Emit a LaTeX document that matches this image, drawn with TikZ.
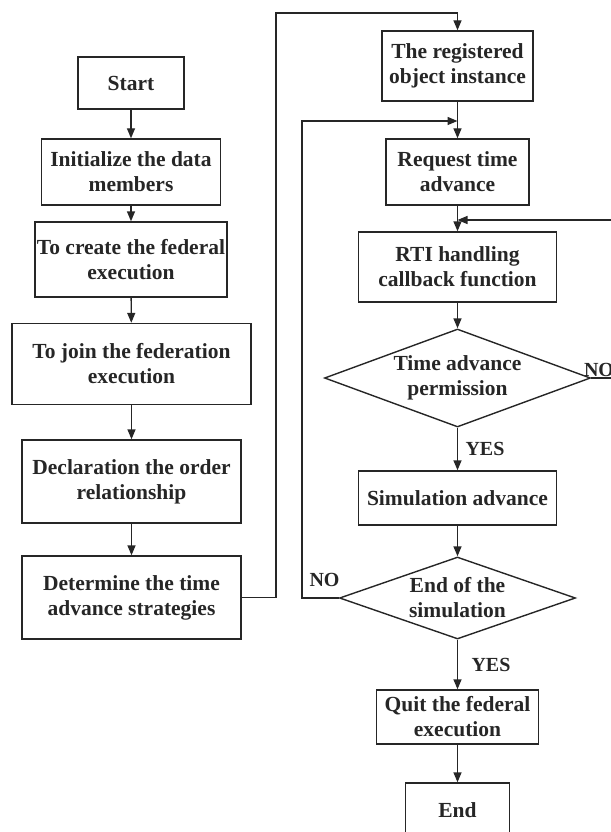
\documentclass[tikz,border=0pt]{standalone}
\usepackage{fontspec}
\setmainfont{Liberation Serif}
\usetikzlibrary{shapes.geometric}
\usetikzlibrary{arrows.meta}
\usetikzlibrary{calc}

\begin{document}
\begin{tikzpicture}[x=1pt, y=-1pt, color=black!85, line width=1.4pt,
        >={Triangle[length=10pt, width=8pt]},
        box/.style={draw, rectangle, align=center, inner sep=0pt,
            font=\fontsize{21.5}{25}\selectfont\bfseries},
        decision/.style={draw, diamond, align=center, inner sep=1pt,
            font=\fontsize{21.5}{25}\selectfont\bfseries},
        tag/.style={font=\fontsize{20}{24}\selectfont\bfseries}]
                \useasboundingbox (0,0) rectangle (610,832);

                % Left column: setting up the federate
                \node[box, minimum width=106pt, minimum height=52pt] (start) at (131,83) {Start};
                \node[box, minimum width=179pt, minimum height=66pt] (init) at (131,172) {Initialize the data\\members};
                \node[box, minimum width=192pt, minimum height=75pt] (create) at (131,259.5) {To create the federal\\execution};
                \node[box, minimum width=239pt, minimum height=81pt] (join) at (131.5,364) {To join the federation\\execution};
                \node[box, minimum width=219pt, minimum height=83pt] (decl) at (131.5,481.5) {Declaration the order\\relationship};
                \node[box, minimum width=219pt, minimum height=83pt] (strat) at (131.5,597.5) {Determine the time\\advance strategies};

                \foreach \a/\b in {start/init, init/create, create/join, join/decl, decl/strat} {
                    \draw[->] (\a) -- (\b);
                }

                % Right column: the simulation loop
                \node[box, minimum width=151pt, minimum height=70pt] (reg) at (457.5,66) {The registered\\object instance};
                \node[box, minimum width=143pt, minimum height=66pt] (req) at (457.5,172) {Request time\\advance};
                \node[box, minimum width=198pt, minimum height=70pt] (rti) at (457.5,267) {RTI handling\\callback function};
                \node[decision, aspect=2.71, minimum width=266pt, minimum height=98pt] (perm) at (457.5,378) {Time advance\\permission};
                \node[box, minimum width=198pt, minimum height=54pt] (sim) at (457.5,498) {Simulation advance};
                \node[decision, aspect=2.88, minimum width=236pt, minimum height=82pt] (fin) at (457.5,598) {End of the\\simulation};
                \node[box, minimum width=162pt, minimum height=54pt] (quit) at (457.5,717) {Quit the federal\\execution};
                \node[box, minimum width=104pt, minimum height=54pt] (end) at (457.5,810) {End};

                % Corners and joins of the feedback lines
                \coordinate (over) at (276,13);
                \coordinate (loopcorner) at (302,121);
                \coordinate (loopin) at (457.5,121);
                \coordinate (retcorner) at (616,220);
                \coordinate (retin) at (457.5,220);

                \draw[->] (strat.east) -| (over) -| (reg.north);
                \draw[->] (reg) -- (req);
                \draw[->] (req) -- (rti);
                \draw[->] (rti) -- (perm);
                \draw[->] (perm) -- node[tag, right, xshift=4pt] {YES} (sim);
                \draw[->] (sim) -- (fin);
                \draw[->] (fin) -- node[tag, right, xshift=10pt] {YES} (quit);
                \draw[->] (quit) -- (end);

                % NO branches
                \draw[->] (fin.west) -| (loopcorner) -- (loopin);
                \draw[->] (perm.east) -| (retcorner) -- (retin);
                \node[tag] (nofin) at (324.5,580) {NO};
                \node[tag] (noperm) at (599,370) {NO};
            \end{tikzpicture}
\end{document}
